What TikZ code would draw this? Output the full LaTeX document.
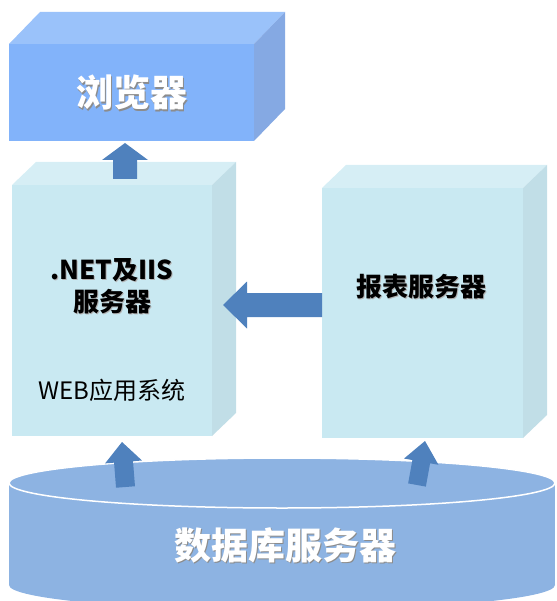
\documentclass[tikz,border=0pt]{standalone}
\usepackage{fontspec}
\newfontfamily\cjk{Noto Sans CJK SC}
\usetikzlibrary{calc}
\definecolor{brfront}{RGB}{130,179,250}
\definecolor{brtop}{RGB}{154,194,250}
\definecolor{brside}{RGB}{133,169,227}
\definecolor{lbfront}{RGB}{201,233,242}
\definecolor{lbtop}{RGB}{214,238,245}
\definecolor{lbside}{RGB}{193,222,231}
\definecolor{cylcol}{RGB}{141,179,226}
\definecolor{arrcol}{RGB}{79,129,189}
\newcommand\blockarr[5]{%
  \coordinate (hb) at ($(#2)!#5!(#1)$);
  \fill[arrcol] ($(#1)!#3!90:(#2)$) -- ($(hb)!#3!90:(#2)$) -- ($(hb)!#4!90:(#2)$) -- (#2)
    -- ($(hb)!#4!-90:(#2)$) -- ($(hb)!#3!-90:(#2)$) -- ($(#1)!#3!-90:(#2)$) -- cycle;}
\begin{document}
\begin{tikzpicture}[x=1pt,y=-1pt,
  face/.style={inner sep=0pt, outer sep=0pt, anchor=north west},
  wtxt/.style={text=white, font=\cjk\bfseries\fontsize{#1}{#1}\selectfont, inner sep=0pt},
  btxt/.style={text=black, font=\cjk\bfseries\fontsize{26}{32}\selectfont, inner sep=0pt, align=center},
  shd/.style={text=black!45},
  bshd/.style={text=black!30}]
\useasboundingbox (0,0) rectangle (556,601);
\clip (0,0) rectangle (556,601);
% browser box
\node[face, fill=brfront, minimum width=245pt, minimum height=97pt] (br) at (9,44) {};
\fill[brtop] (br.north west) -- ++(31,-32) -- ($(br.north east)+(31,-32)$) -- (br.north east) -- cycle;
\fill[brside] (br.north east) -- ++(31,-32) -- ($(br.south east)+(31,-32)$) -- (br.south east) -- cycle;
\node[wtxt=37, shd] at ($(br.center)+(1.5,1.5)$) {浏览器};
\node[wtxt=37] (brt) at (br.center) {浏览器};
% .NET server box
\node[face, fill=lbfront, minimum width=200pt, minimum height=251pt] (srv) at (12,185) {};
\fill[lbtop] (srv.north west) -- ++(24,-23) -- ($(srv.north east)+(24,-23)$) -- (srv.north east) -- cycle;
\fill[lbside] (srv.north east) -- ++(24,-23) -- ($(srv.south east)+(24,-23)$) -- (srv.south east) -- cycle;
\node[btxt, bshd] at (113,287) {.NET及IIS\\服务器};
\node[btxt] (srvt) at (112,286) {.NET及IIS\\服务器};
\node[font=\cjk\fontsize{24}{24}\selectfont, inner sep=0pt] (web) at (112,390) {WEB应用系统};
% report server box
\node[face, fill=lbfront, minimum width=201pt, minimum height=250pt] (rep) at (322,188) {};
\fill[lbtop] (rep.north west) -- ++(24,-23) -- ($(rep.north east)+(24,-23)$) -- (rep.north east) -- cycle;
\fill[lbside] (rep.north east) -- ++(24,-23) -- ($(rep.south east)+(24,-23)$) -- (rep.south east) -- cycle;
\node[btxt, bshd] at (422,288) {报表服务器};
\node[btxt] (rept) at (421,287) {报表服务器};
% database cylinder
\fill[cylcol] (9,483) rectangle (555,585);
\fill[cylcol] (282,585) ellipse [x radius=273, y radius=25];
\filldraw[fill=cylcol, draw=white, line width=1.5pt] (282,483) ellipse [x radius=273, y radius=25];
\coordinate (db) at (285,545);
\node[wtxt=37, shd] at ($(db)+(1.5,1.5)$) {数据库服务器};
\node[wtxt=37] (dbt) at (db) {数据库服务器};
% arrows
\coordinate (a1t) at (125,179);
\coordinate (a1h) at (125,143);
\blockarr{a1t}{a1h}{12pt}{23pt}{17pt}
\coordinate (a2t) at (322,305);
\coordinate (a2h) at (223,305);
\blockarr{a2t}{a2h}{12pt}{23.5pt}{24pt}
\coordinate (a3t) at (125.5,487);
\coordinate (a3h) at (122,442);
\blockarr{a3t}{a3h}{9.5pt}{18.5pt}{20pt}
\coordinate (a4t) at (417,485);
\coordinate (a4h) at (425,441);
\blockarr{a4t}{a4h}{9pt}{17.5pt}{21pt}
\end{tikzpicture}
\end{document}
